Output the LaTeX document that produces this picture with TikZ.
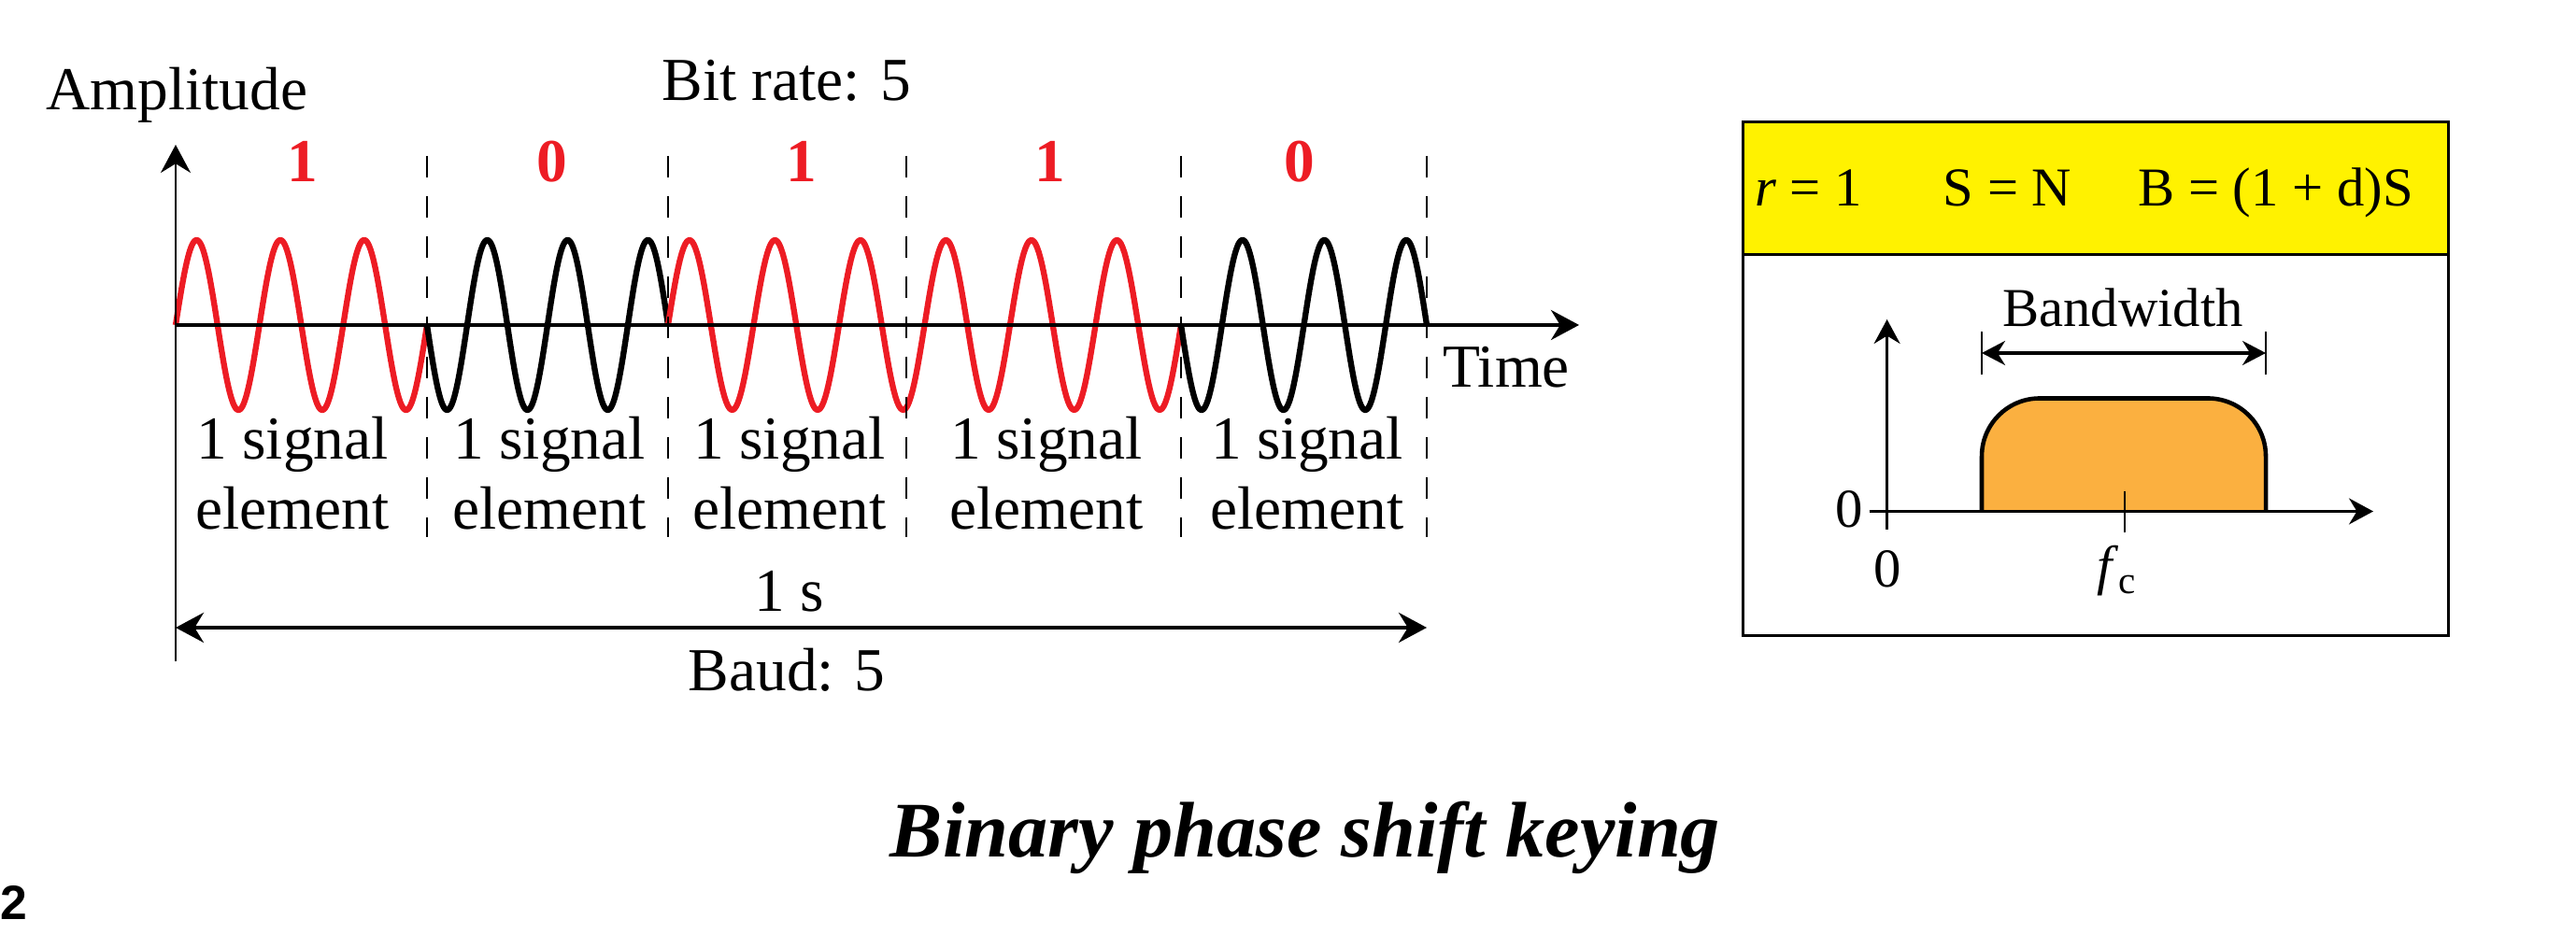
\documentclass[tikz,border=0pt]{standalone}
\usepackage{fontspec}
\setmainfont{Liberation Serif}
\setsansfont{Liberation Sans}
\usetikzlibrary{arrows.meta}
\definecolor{bitred}{RGB}{237,28,36}
\definecolor{bandyellow}{RGB}{255,242,0}
\definecolor{bandorange}{RGB}{251,176,64}

\begin{document}
\begin{tikzpicture}[>={Stealth[length=3mm,width=3.2mm]},
  lbl/.style={inner sep=0pt,anchor=base,font=\fontsize{18.6}{21.3}\selectfont},
  plbl/.style={inner sep=0pt,anchor=base,font=\fontsize{16.7}{20}\selectfont},
  bit/.style={inner sep=0pt,anchor=base,text=bitred,font=\fontsize{18.6}{21.3}\selectfont\bfseries},
  wave/.style={line width=1.8pt,line join=round},
  divider/.style={line width=0.7pt,dash pattern=on 2.3mm off 2mm},
  smallarrow/.style={>={Stealth[length=2.6mm,width=2.8mm]}}]
\useasboundingbox (0,0) rectangle (27.57,10);
\foreach \a/\b/\n/\s/\c in {1.88/4.57/3/1/bitred,4.57/7.15/3/-1/black,7.15/12.64/6/1/bitred,12.64/15.27/3/-1/black}
  \draw[wave,\c] plot[domain=\a:\b,samples=301] (\x,{6.52+(\s)*0.91*sin(\n*360*(\x-\a)/(\b-\a))});
\foreach \x in {4.57,7.15,9.70,12.64,15.27}
  \draw[divider] (\x,8.33) -- (\x,4.25);
\coordinate (o) at (1.88,6.52);
\coordinate (ytop) at (1.88,8.45);
\coordinate (ybot) at (1.88,2.92);
\coordinate (tend) at (16.90,6.52);
\coordinate (sl) at (1.88,3.28);
\coordinate (sr) at (15.27,3.28);
\draw[line width=0.65pt,->] (ybot) -- (ytop);
\draw[line width=1.1pt,->] (o) -- (tend);
\draw[line width=1.1pt,<->] (sl) -- (sr);
\foreach \x/\b [count=\i] in {3.24/1,5.91/0,8.58/1,11.24/1,13.91/0}
  \node[bit] (bit\i) at (\x,8.05) {\b};
\foreach \x [count=\i] in {3.13,5.88,8.45,11.20,13.99}
  \node[lbl,anchor=north,align=center] (elem\i) at (\x,5.548) {1 signal\\element};
\node[lbl] (amp) at (1.895,8.82) {Amplitude};
\node[lbl] (rate) at (8.42,8.92) {Bit rate: 5};
\node[lbl] (time) at (16.12,5.85) {Time};
\node[lbl] (sec) at (8.45,3.45) {1 s};
\node[lbl] (baud) at (8.42,2.60) {Baud: 5};
\node[inner sep=0pt,anchor=base,font=\fontsize{24}{28}\selectfont\bfseries\itshape] (title) at (13.97,0.82) {Binary phase shift keying};
\node[inner sep=0pt,anchor=base west,font=\fontsize{14.7}{17}\selectfont\sffamily\bfseries] (page) at (0,0.15) {2};
\draw[line width=0.85pt,fill=bandyellow] (18.655,7.27) rectangle (26.206,8.694);
\draw[line width=0.85pt] (18.655,3.19) rectangle (26.206,7.27);
\node[plbl] (rr) at (19.355,7.795) {\textit{r} = 1};
\node[plbl] (ss) at (21.485,7.795) {S = N};
\node[plbl] (bb) at (24.355,7.795) {B = (1 + d)S};
\draw[line width=1.3pt,fill=bandorange,rounded corners=0.62cm] (21.21,4.525) -- (21.21,5.735) -- (24.25,5.735) -- (24.25,4.525);
\coordinate (po) at (20.196,4.525);
\coordinate (fy) at (20.196,6.58);
\coordinate (fyb) at (20.196,4.33);
\coordinate (fxl) at (20.007,4.525);
\coordinate (fx) at (25.40,4.525);
\draw[line width=0.7pt,smallarrow,->] (fyb) -- (fy);
\draw[line width=0.7pt,smallarrow,->] (fxl) -- (fx);
\draw[line width=0.7pt] (22.737,4.743) -- (22.737,4.30);
\draw[line width=0.7pt] (21.21,6.45) -- (21.21,5.99);
\draw[line width=0.7pt] (24.25,6.45) -- (24.25,5.99);
\coordinate (bwl) at (21.21,6.22);
\coordinate (bwr) at (24.25,6.22);
\draw[line width=0.9pt,>={Stealth[length=2.5mm,width=2.6mm]},<->] (bwl) -- (bwr);
\node[plbl] (bw) at (22.72,6.50) {Bandwidth};
\node[plbl,anchor=center] (zy) at (19.79,4.545) {0};
\node[plbl,anchor=center] (zx) at (20.20,3.91) {0};
\node[plbl] (fc) at (22.66,3.74) {\textit{f}\textsubscript{c}};
\end{tikzpicture}
\end{document}
